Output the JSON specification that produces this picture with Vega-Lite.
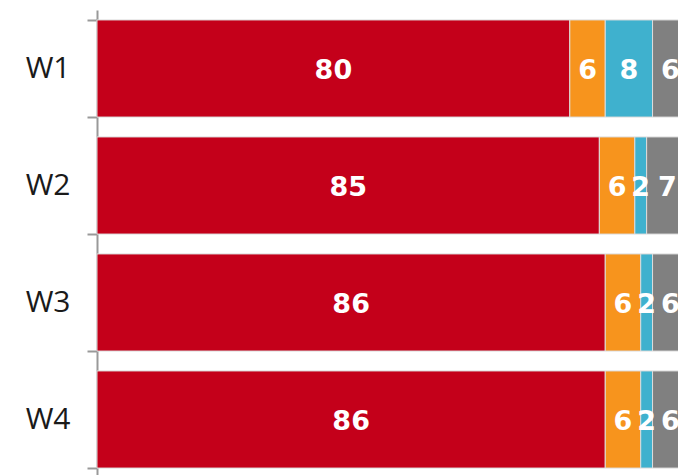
{
  "$schema": "https://vega.github.io/schema/vega-lite/v6.json",
  "width": 591,
  "height": 468,
  "autosize": "none",
  "padding": {"left": 97, "top": 10, "right": 0, "bottom": 0},
  "background": "white",
  "config": {"view": {"stroke": null}},
  "data": {"values": [
    {"wave": "W1", "cat": "A", "idx": 1, "value": 80},
    {"wave": "W1", "cat": "B", "idx": 2, "value": 6},
    {"wave": "W1", "cat": "C", "idx": 3, "value": 8},
    {"wave": "W1", "cat": "D", "idx": 4, "value": 6},
    {"wave": "W2", "cat": "A", "idx": 1, "value": 85},
    {"wave": "W2", "cat": "B", "idx": 2, "value": 6},
    {"wave": "W2", "cat": "C", "idx": 3, "value": 2},
    {"wave": "W2", "cat": "D", "idx": 4, "value": 7},
    {"wave": "W3", "cat": "A", "idx": 1, "value": 86},
    {"wave": "W3", "cat": "B", "idx": 2, "value": 6},
    {"wave": "W3", "cat": "C", "idx": 3, "value": 2},
    {"wave": "W3", "cat": "D", "idx": 4, "value": 6},
    {"wave": "W4", "cat": "A", "idx": 1, "value": 86},
    {"wave": "W4", "cat": "B", "idx": 2, "value": 6},
    {"wave": "W4", "cat": "C", "idx": 3, "value": 2},
    {"wave": "W4", "cat": "D", "idx": 4, "value": 6}
  ]},
  "encoding": {
    "y": {
      "field": "wave", "type": "nominal", "sort": null,
      "scale": {"paddingInner": 0.17, "paddingOuter": 0.085},
      "axis": {
        "title": null,
        "domainColor": "#999999", "domainWidth": 2,
        "tickColor": "#999999", "tickWidth": 2, "tickSize": 10,
        "tickBand": "extent",
        "labelFont": "Open Sans", "labelFontSize": 30, "labelColor": "#1a1a1a",
        "labelPadding": 17, "labelBaseline": "middle"
      }
    },
    "x": {
      "field": "value", "type": "quantitative", "stack": "zero",
      "scale": {"domain": [0, 100], "nice": false},
      "axis": null
    },
    "order": {"field": "idx", "type": "quantitative"}
  },
  "layer": [
    {
      "mark": {"type": "bar", "stroke": "#dcdcdc", "strokeWidth": 1},
      "encoding": {
        "color": {
          "field": "cat", "type": "nominal",
          "scale": {"domain": ["A", "B", "C", "D"], "range": ["#C4001A", "#F7941D", "#3FB1CE", "#808080"]},
          "legend": null
        }
      }
    },
    {
      "mark": {"type": "text", "color": "white", "font": "DejaVu Sans", "fontWeight": "bold", "fontSize": 27, "baseline": "middle", "align": "center", "dy": 2},
      "encoding": {
        "x": {"field": "value", "type": "quantitative", "stack": "zero", "bandPosition": 0.5},
        "text": {"field": "value", "type": "quantitative"}
      }
    }
  ]
}
